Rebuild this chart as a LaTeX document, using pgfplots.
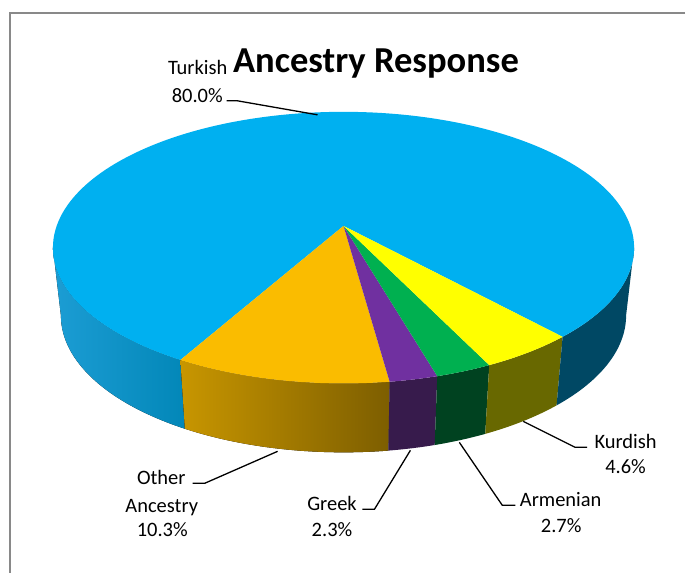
\documentclass[border=0pt]{standalone}
\usepackage{pgfplots}
\pgfplotsset{compat=1.18}
\usepackage{fontspec}
\setmainfont{Carlito}
\definecolor{cTurk}{RGB}{0,176,240}
\definecolor{cOther}{RGB}{250,188,0}
\definecolor{cGreek}{RGB}{112,48,160}
\definecolor{cArm}{RGB}{0,176,80}
\definecolor{cKurd}{RGB}{255,255,0}
\definecolor{sTurkL}{RGB}{28,157,212}
\definecolor{sTurkR}{RGB}{2,135,184}
\definecolor{sTurkRight}{RGB}{0,72,100}
\definecolor{sOtherL}{RGB}{200,150,0}
\definecolor{sOtherR}{RGB}{125,94,0}
\definecolor{sGreek}{RGB}{55,27,76}
\definecolor{sArm}{RGB}{0,66,32}
\definecolor{sKurd}{RGB}{104,104,0}
\definecolor{frame}{RGB}{137,137,137}

% data (percent)
\def\vTurk{80.0}\def\vOther{10.3}\def\vGreek{2.3}\def\vArm{2.7}\def\vKurd{4.6}

% geometry (1 axis unit = 1pt)
\def\cx{344}\def\cy{326}\def\ra{291}\def\rb{136}
\def\bcy{258}\def\bra{283}\def\brb{137}
\def\kk{0.16}
\def\startangle{240.7}

\newcommand\mapangle[2]{%
 \pgfmathsetmacro\tmpx{cos(#2)*sqrt(1-\kk*\kk)/(1+\kk*sin(#2))}%
 \pgfmathsetmacro\tmpy{(sin(#2)+\kk)/(1+\kk*sin(#2))}%
 \pgfmathsetmacro\tmpa{atan2(\tmpy,\tmpx)}%
 \pgfmathsetmacro#1{\tmpa<0 ? \tmpa+360 : \tmpa}%
}
\newcommand\mkpts[2]{%
 \expandafter\pgfmathsetmacro\csname tx#1\endcsname{\cx+\ra*cos(#2)}%
 \expandafter\pgfmathsetmacro\csname ty#1\endcsname{\cy+\rb*sin(#2)}%
 \expandafter\pgfmathsetmacro\csname bx#1\endcsname{\cx+\bra*cos(#2)}%
 \expandafter\pgfmathsetmacro\csname by#1\endcsname{\bcy+\brb*sin(#2)}%
}
\pgfmathsetmacro\thA{\startangle}
\pgfmathsetmacro\thB{\thA+3.6*\vOther}
\pgfmathsetmacro\thC{\thB+3.6*\vGreek}
\pgfmathsetmacro\thD{\thC+3.6*\vArm}
\pgfmathsetmacro\thE{\thD+3.6*\vKurd}
\mapangle\tA\thA
\mapangle\tB\thB
\mapangle\tC\thC
\mapangle\tD\thD
\mapangle\tE\thE
\pgfmathsetmacro\tAA{\tA+360}
\mkpts{A}{\tA}\mkpts{B}{\tB}\mkpts{C}{\tC}\mkpts{D}{\tD}\mkpts{E}{\tE}
\pgfmathsetmacro\apy{\cy+\kk*\rb}
\pgfmathsetmacro\lx{\cx-\ra}
\pgfmathsetmacro\rx{\cx+\ra}
\pgfmathsetmacro\blx{\cx-\bra}
\pgfmathsetmacro\brx{\cx+\bra}

\newcommand\lbl{\fontsize{20.5}{24}\selectfont}
\newcommand\pct[1]{\pgfmathprintnumber[fixed,precision=1,fixed zerofill,assume math mode=true]{#1}\%}

\begin{document}
\begin{tikzpicture}
\begin{axis}[
  scale only axis, width=686pt, height=574pt,
  xmin=0, xmax=686, ymin=0, ymax=574,
  hide axis, clip=false]
% page extent
\path (axis cs:0,0) rectangle (axis cs:686,574);
% frame
\draw[frame, line width=2pt] (axis cs:686,561) -- (axis cs:10,561) -- (axis cs:10,0);
% side walls
\fill[left color=sTurkL, right color=sTurkR]
  (axis cs:\lx,\cy) arc[start angle=180, end angle=\tA, x radius=\ra pt, y radius=\rb pt]
  -- (axis cs:\bxA,\byA) arc[start angle=\tA, end angle=180, x radius=\bra pt, y radius=\brb pt] -- cycle;
\fill[left color=sOtherL, right color=sOtherR]
  (axis cs:\txA,\tyA) arc[start angle=\tA, end angle=\tB, x radius=\ra pt, y radius=\rb pt]
  -- (axis cs:\bxB,\byB) arc[start angle=\tB, end angle=\tA, x radius=\bra pt, y radius=\brb pt] -- cycle;
\fill[sGreek]
  (axis cs:\txB,\tyB) arc[start angle=\tB, end angle=\tC, x radius=\ra pt, y radius=\rb pt]
  -- (axis cs:\bxC,\byC) arc[start angle=\tC, end angle=\tB, x radius=\bra pt, y radius=\brb pt] -- cycle;
\fill[sArm]
  (axis cs:\txC,\tyC) arc[start angle=\tC, end angle=\tD, x radius=\ra pt, y radius=\rb pt]
  -- (axis cs:\bxD,\byD) arc[start angle=\tD, end angle=\tC, x radius=\bra pt, y radius=\brb pt] -- cycle;
\fill[sKurd]
  (axis cs:\txD,\tyD) arc[start angle=\tD, end angle=\tE, x radius=\ra pt, y radius=\rb pt]
  -- (axis cs:\bxE,\byE) arc[start angle=\tE, end angle=\tD, x radius=\bra pt, y radius=\brb pt] -- cycle;
\fill[sTurkRight]
  (axis cs:\txE,\tyE) arc[start angle=\tE, end angle=360, x radius=\ra pt, y radius=\rb pt]
  -- (axis cs:\brx,\bcy) arc[start angle=360, end angle=\tE, x radius=\bra pt, y radius=\brb pt] -- cycle;
% top faces
\fill[cTurk] (axis cs:\cx,\apy) -- (axis cs:\txE,\tyE)
  arc[start angle=\tE, end angle=\tAA, x radius=\ra pt, y radius=\rb pt] -- cycle;
\fill[cOther] (axis cs:\cx,\apy) -- (axis cs:\txA,\tyA)
  arc[start angle=\tA, end angle=\tB, x radius=\ra pt, y radius=\rb pt] -- cycle;
\fill[cGreek] (axis cs:\cx,\apy) -- (axis cs:\txB,\tyB)
  arc[start angle=\tB, end angle=\tC, x radius=\ra pt, y radius=\rb pt] -- cycle;
\fill[cArm] (axis cs:\cx,\apy) -- (axis cs:\txC,\tyC)
  arc[start angle=\tC, end angle=\tD, x radius=\ra pt, y radius=\rb pt] -- cycle;
\fill[cKurd] (axis cs:\cx,\apy) -- (axis cs:\txD,\tyD)
  arc[start angle=\tD, end angle=\tE, x radius=\ra pt, y radius=\rb pt] -- cycle;
% title
\node[anchor=base, inner sep=0pt, font=\fontsize{36.6}{44}\selectfont\bfseries] at (axis cs:376.5,501) {Ancestry Response};
% leader lines
\draw[black, line width=1.3pt] (axis cs:227,473) -- (axis cs:238,473) -- (axis cs:318,459);
\draw[black, line width=1.3pt] (axis cs:193,90) -- (axis cs:205,90) -- (axis cs:278,122);
\draw[black, line width=1.3pt] (axis cs:363,64) -- (axis cs:375,64) -- (axis cs:411,123);
\draw[black, line width=1.3pt] (axis cs:516,68) -- (axis cs:503,68) -- (axis cs:460,131);
\draw[black, line width=1.3pt] (axis cs:588,126) -- (axis cs:576,126) -- (axis cs:524,152);
% labels
\node[anchor=base, inner sep=0pt, font=\lbl] at (axis cs:198,499) {Turkish};
\node[anchor=base, inner sep=0pt, font=\lbl] at (axis cs:197.5,471) {\pct{\vTurk}};
\node[anchor=base, inner sep=0pt, font=\lbl] at (axis cs:161.5,89) {Other};
\node[anchor=base, inner sep=0pt, font=\lbl] at (axis cs:162,61) {Ancestry};
\node[anchor=base, inner sep=0pt, font=\lbl] at (axis cs:162.5,37) {\pct{\vOther}};
\node[anchor=base, inner sep=0pt, font=\lbl] at (axis cs:332.5,63) {Greek};
\node[anchor=base, inner sep=0pt, font=\lbl] at (axis cs:332.5,37) {\pct{\vGreek}};
\node[anchor=base, inner sep=0pt, font=\lbl] at (axis cs:561.5,67) {Armenian};
\node[anchor=base, inner sep=0pt, font=\lbl] at (axis cs:562,41) {\pct{\vArm}};
\node[anchor=base, inner sep=0pt, font=\lbl] at (axis cs:626.5,125) {Kurdish};
\node[anchor=base, inner sep=0pt, font=\lbl] at (axis cs:626.5,100) {\pct{\vKurd}};
\end{axis}
\end{tikzpicture}
\end{document}
